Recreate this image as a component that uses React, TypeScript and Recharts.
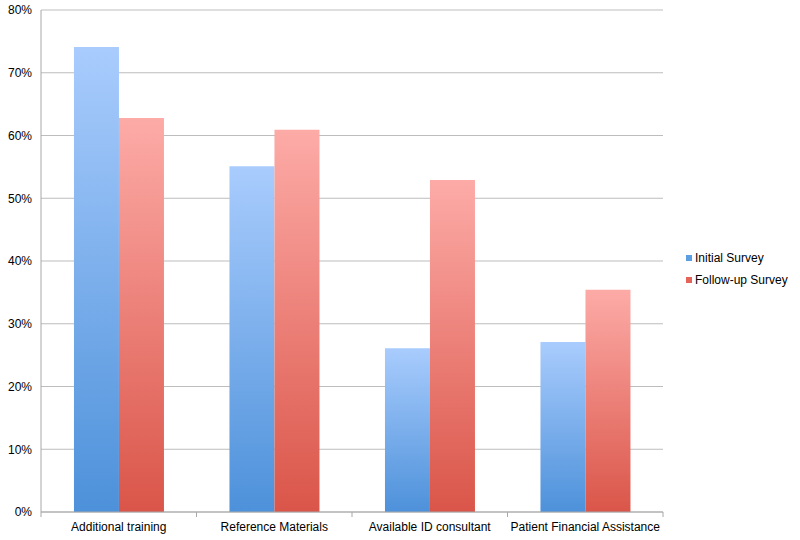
import { Bar, BarChart, CartesianGrid, XAxis, YAxis } from 'recharts'

const categories = [
  'Additional training',
  'Reference Materials',
  'Available ID consultant',
  'Patient Financial Assistance',
]
const initialSurvey = [74.1, 55.1, 26.1, 27.1]
const followUpSurvey = [62.8, 60.9, 52.9, 35.4]
const yTicks = [0, 10, 20, 30, 40, 50, 60, 70, 80]

const data = categories.map((name, i) => ({
  name,
  initial: initialSurvey[i],
  followUp: followUpSurvey[i],
}))

const font = '"Liberation Sans", Arial, Helvetica, sans-serif'

const CategoryTick = (props: any) => {
  const { x, y, payload, index } = props
  const half = payload.offset ?? 0
  return (
    <g>
      <line x1={x - half} y1={y - 8} x2={x - half} y2={y - 3} stroke="#a8a8a8" />
      {index === categories.length - 1 && (
        <line x1={x + half} y1={y - 8} x2={x + half} y2={y - 3} stroke="#a8a8a8" />
      )}
      <text x={x} y={y + 11} textAnchor="middle" fontSize={12} fill="#000" fontFamily={font}>
        {payload.value}
      </text>
    </g>
  )
}

const legendItems = [
  { label: 'Initial Survey', color: '#5c9ee2' },
  { label: 'Follow-up Survey', color: '#e4645a' },
]

export default function App() {
  return (
    <div style={{ position: 'relative', width: 800, height: 540, background: '#fff' }}>
      <style>{'body{margin:0}'}</style>
      <BarChart
        width={800}
        height={540}
        data={data}
        margin={{ top: 10, right: 137, bottom: 0, left: 0 }}
        barCategoryGap="21.2%"
        barGap={0}
      >
        <defs>
          <linearGradient id="blueGrad" x1="0" y1="0" x2="0" y2="1">
            <stop offset="0%" stopColor="#a9ccfd" />
            <stop offset="100%" stopColor="#4d91da" />
          </linearGradient>
          <linearGradient id="redGrad" x1="0" y1="0" x2="0" y2="1">
            <stop offset="0%" stopColor="#fdaba7" />
            <stop offset="100%" stopColor="#da5549" />
          </linearGradient>
        </defs>
        <CartesianGrid vertical={false} stroke="#bdbdbd" />
        <XAxis
          dataKey="name"
          height={28}
          axisLine={{ stroke: '#a8a8a8' }}
          tickLine={false}
          tick={<CategoryTick />}
          interval={0}
        />
        <YAxis
          width={41}
          domain={[0, 80]}
          ticks={yTicks}
          tickFormatter={(v) => `${v}%`}
          axisLine={{ stroke: '#a8a8a8' }}
          tickLine={false}
          tickSize={6}
          tickMargin={3}
          tick={{ fontSize: 12, fill: '#000', fontFamily: font }}
        />
        <Bar dataKey="initial" name="Initial Survey" fill="url(#blueGrad)" isAnimationActive={false} />
        <Bar dataKey="followUp" name="Follow-up Survey" fill="url(#redGrad)" isAnimationActive={false} />
      </BarChart>
      <div
        style={{
          position: 'absolute',
          left: 686,
          top: 247,
          fontFamily: font,
          fontSize: 12,
          color: '#000',
        }}
      >
        {legendItems.map((item) => (
          <div key={item.label} style={{ display: 'flex', alignItems: 'center', height: 22 }}>
            <span
              style={{
                display: 'inline-block',
                width: 6,
                height: 6,
                background: item.color,
                marginRight: 3,
              }}
            />
            {item.label}
          </div>
        ))}
      </div>
    </div>
  )
}
